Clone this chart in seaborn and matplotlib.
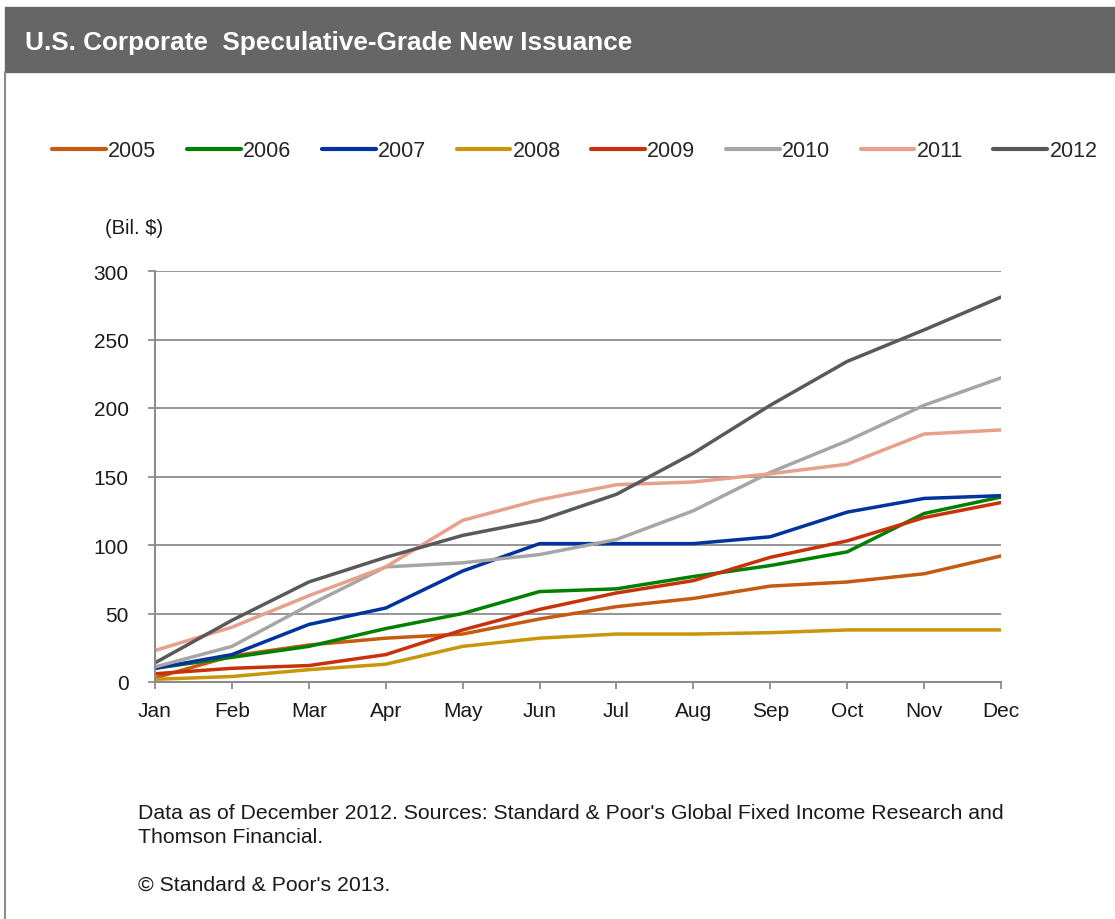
import matplotlib
matplotlib.use("Agg")
import matplotlib.pyplot as plt
from matplotlib.patches import Rectangle
from matplotlib.lines import Line2D
import seaborn as sns
import pandas as pd

# cumulative issuance, billions of dollars
months = ["Jan", "Feb", "Mar", "Apr", "May", "Jun", "Jul", "Aug", "Sep", "Oct", "Nov", "Dec"]
years = ["2005", "2006", "2007", "2008", "2009", "2010", "2011", "2012"]

y2005 = [3, 19, 27, 32, 35, 46, 55, 61, 70, 73, 79, 92]
y2006 = [10, 18, 26, 39, 50, 66, 68, 77, 85, 95, 123, 135]
y2007 = [10, 20, 42, 54, 81, 101, 101, 101, 106, 124, 134, 136]
y2008 = [2, 4, 9, 13, 26, 32, 35, 35, 36, 38, 38, 38]
y2009 = [6, 10, 12, 20, 38, 53, 65, 74, 91, 103, 120, 131]
y2010 = [11, 26, 56, 84, 87, 93, 104, 125, 153, 176, 202, 222]
y2011 = [23, 40, 63, 84, 118, 133, 144, 146, 152, 159, 181, 184]
y2012 = [14, 45, 73, 91, 107, 118, 137, 167, 202, 234, 257, 281]

colors = {
    "2005": "#c55a11",
    "2006": "#008000",
    "2007": "#0033a0",
    "2008": "#c8960a",
    "2009": "#c8320a",
    "2010": "#a6a6a6",
    "2011": "#e6a08c",
    "2012": "#595959",
}

series = [y2005, y2006, y2007, y2008, y2009, y2010, y2011, y2012]
rows = []
for yr, vals in zip(years, series):
    for i, v in enumerate(vals):
        rows.append({"year": yr, "month": i, "value": v})
df = pd.DataFrame(rows)

sns.set_style("white")
plt.rcParams["font.family"] = ["Liberation Sans", "DejaVu Sans"]

fig = plt.figure(figsize=(11.15, 9.2), dpi=100)
ax = fig.add_axes([155 / 1115, 1 - 683 / 920, (1001 - 155) / 1115, (683 - 272) / 920])

sns.lineplot(data=df, x="month", y="value", hue="year", palette=colors,
             linewidth=2.5, sort=False, legend=False, ax=ax)

ax.set_xlim(0, 11)
ax.set_ylim(0, 300)
ax.set_xticks(range(12))
ax.set_xticklabels(months)
ax.set_yticks(range(0, 301, 50))
ax.set_xlabel("")
ax.set_ylabel("")
ax.yaxis.grid(True, color="#8c8c8c", linewidth=1.3)
ax.set_axisbelow(True)
for side in ["top", "right"]:
    ax.spines[side].set_visible(False)
for side in ["left", "bottom"]:
    ax.spines[side].set_color("#8c8c8c")
    ax.spines[side].set_linewidth(1.5)
ax.tick_params(axis="both", length=5, width=1.3, color="#8c8c8c",
               labelsize=15, labelcolor="#1a1a1a")
ax.tick_params(axis="y", pad=14, left=True)
ax.tick_params(axis="x", pad=9, bottom=True)

# header bar and frame
fig.patches.append(Rectangle((5 / 1115, 1 - 73 / 920), 1, 65 / 920,
                             transform=fig.transFigure, color="#666666", zorder=0))
fig.add_artist(Line2D([5 / 1115, 5 / 1115], [0, 1 - 73 / 920],
                      transform=fig.transFigure, color="#8c8c8c", linewidth=1.5))
fig.text(25 / 1115, 1 - 43 / 920, "U.S. Corporate  Speculative-Grade New Issuance",
         color="white", fontsize=18.8, fontweight="bold", va="center", ha="left")

handles = [Line2D([], [], color=colors[y], linewidth=3) for y in years]
fig.legend(handles, years, ncol=8, loc="center left", frameon=False,
           bbox_to_anchor=(33 / 1115, 1 - 152 / 920), fontsize=15.5,
           handlelength=2.5, handletextpad=0.1, columnspacing=1.42)

fig.text(105 / 1115, 1 - 228 / 920, "(Bil. $)", fontsize=14.5, va="center", color="#1a1a1a")

fig.text(138 / 1115, 1 - 814 / 920,
         "Data as of December 2012. Sources: Standard & Poor's Global Fixed Income Research and",
         fontsize=15.3, va="center", color="#1a1a1a")
fig.text(138 / 1115, 1 - 838 / 920, "Thomson Financial.", fontsize=15.3, va="center", color="#1a1a1a")
fig.text(138 / 1115, 1 - 885 / 920, "\u00a9 Standard & Poor's 2013.", fontsize=15.3, va="center", color="#1a1a1a")

fig.savefig("out.png", dpi=100)
